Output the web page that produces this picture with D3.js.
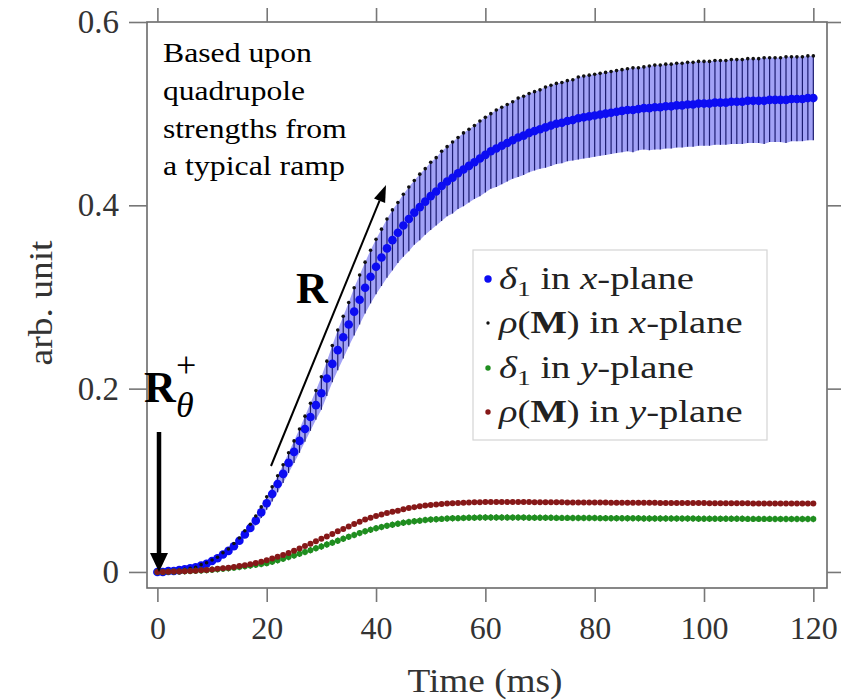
<!DOCTYPE html>
<html><head><meta charset="utf-8">
<script src="https://cdn.jsdelivr.net/npm/d3@7"></script>
<style>body{margin:0;background:#fff} svg{display:block}</style>
</head><body><svg id="c" width="864" height="700"></svg>
<script>
const timeMs = d3.range(0, 121);
const deltaX = [0,0,0.001,0.001,0.002,0.003,0.004,0.005,0.007,0.009,
0.012,0.015,0.019,0.023,0.028,0.034,0.041,0.048,0.056,0.065,
0.075,0.085,0.096,0.107,0.119,0.131,0.143,0.156,0.169,0.182,
0.195,0.211,0.227,0.242,0.256,0.270,0.284,0.297,0.310,0.322,
0.333,0.343,0.353,0.362,0.370,0.378,0.385,0.392,0.398,0.404,
0.410,0.415,0.421,0.426,0.430,0.435,0.439,0.443,0.447,0.451,
0.455,0.459,0.462,0.465,0.468,0.471,0.474,0.476,0.479,0.481,
0.483,0.485,0.487,0.489,0.490,0.492,0.493,0.495,0.496,0.497,
0.498,0.499,0.500,0.501,0.502,0.503,0.504,0.504,0.505,0.506,
0.506,0.507,0.507,0.508,0.508,0.509,0.509,0.510,0.510,0.511,
0.511,0.511,0.512,0.512,0.512,0.513,0.513,0.513,0.514,0.514,
0.514,0.514,0.515,0.515,0.515,0.515,0.516,0.516,0.516,0.517,
0.517];
const rhoX = [0,0,0.001,0.001,0.002,0.003,0.004,0.005,0.008,0.010,
0.013,0.016,0.021,0.025,0.031,0.037,0.045,0.052,0.061,0.071,
0.082,0.093,0.105,0.117,0.130,0.143,0.156,0.170,0.184,0.198,
0.213,0.230,0.247,0.264,0.279,0.294,0.310,0.324,0.338,0.351,
0.363,0.374,0.385,0.395,0.403,0.412,0.420,0.427,0.434,0.440,
0.447,0.452,0.459,0.464,0.469,0.474,0.479,0.483,0.487,0.492,
0.496,0.500,0.504,0.507,0.510,0.513,0.517,0.519,0.522,0.524,
0.526,0.529,0.531,0.533,0.534,0.536,0.537,0.540,0.541,0.542,
0.543,0.544,0.545,0.546,0.547,0.548,0.549,0.550,0.550,0.551,
0.552,0.553,0.553,0.554,0.554,0.555,0.555,0.556,0.556,0.557,
0.557,0.557,0.558,0.558,0.558,0.559,0.559,0.559,0.560,0.560,
0.560,0.561,0.561,0.561,0.561,0.562,0.562,0.562,0.562,0.563,
0.563];
const deltaY = [0,0,0.0002,0.0004,0.0006,0.0008,0.001,0.0013,0.0016,0.002,
0.0024,0.0029,0.0034,0.004,0.0047,0.0054,0.0062,0.007,0.0078,0.0087,
0.0096,0.0112,0.0128,0.0145,0.0162,0.018,0.0199,0.0218,0.0238,0.0258,
0.0278,0.0299,0.032,0.0341,0.0362,0.0383,0.0404,0.0424,0.0443,0.046,
0.0476,0.049,0.0503,0.0515,0.0526,0.0536,0.0545,0.0553,0.056,0.0566,
0.0571,0.0575,0.0579,0.0582,0.0585,0.0587,0.0589,0.0591,0.0592,0.0593,
0.0594,0.0594,0.0594,0.0594,0.0594,0.0593,0.0593,0.0593,0.0592,0.0592,
0.0592,0.0591,0.0591,0.059,0.059,0.059,0.0589,0.0589,0.0588,0.0588,
0.0588,0.0587,0.0587,0.0586,0.0586,0.0586,0.0585,0.0585,0.0585,0.0584,
0.0584,0.0584,0.0583,0.0583,0.0583,0.0582,0.0582,0.0582,0.0582,0.0581,
0.0581,0.0581,0.0581,0.058,0.058,0.058,0.058,0.058,0.0579,0.0579,
0.0579,0.0579,0.0579,0.0578,0.0578,0.0578,0.0578,0.0578,0.0578,0.0577,
0.0577];
const rhoY = [0,0,0.0002,0.0004,0.0006,0.0008,0.0011,0.0014,0.0018,0.0022,
0.0028,0.0034,0.0040,0.0047,0.0055,0.0064,0.0074,0.0085,0.0097,0.0112,
0.0128,0.0146,0.0165,0.0186,0.0208,0.0232,0.0257,0.0283,0.0309,0.0335,
0.0361,0.0388,0.0415,0.0443,0.047,0.0497,0.0523,0.0548,0.0571,0.0592,
0.0611,0.0628,0.0643,0.0657,0.0669,0.0685,0.0697,0.0707,0.0716,0.0724,
0.0731,0.0737,0.0742,0.0746,0.075,0.0753,0.0756,0.0758,0.076,0.0761,
0.0762,0.0763,0.0763,0.0763,0.0763,0.0763,0.0762,0.0762,0.0762,0.0761,
0.0761,0.0761,0.076,0.076,0.076,0.0759,0.0759,0.0759,0.0758,0.0758,
0.0758,0.0757,0.0757,0.0756,0.0756,0.0756,0.0755,0.0755,0.0755,0.0754,
0.0754,0.0754,0.0753,0.0753,0.0753,0.0752,0.0752,0.0752,0.0751,0.0751,
0.0751,0.075,0.075,0.075,0.075,0.0749,0.0749,0.0749,0.0749,0.0748,
0.0748,0.0748,0.0748,0.0747,0.0747,0.0747,0.0747,0.0746,0.0746,0.0746,
0.0746];
const deltaYErr = 0.0035;
const xTicks = [0,20,40,60,80,100,120];
const yTicks = [0,0.2,0.4,0.6];
const yTickLabels = ["0","0.2","0.4","0.6"];
const xTitle = "Time (ms)";
const yTitle = "arb. unit";
const noteLines = ["Based upon","quadrupole","strengths from","a typical ramp"];
const legendLabels = [
  [["δ","i"],["1","sub"],[" in ",""],["x","i"],["-plane",""]],
  [["ρ","i"],["(",""],["M","b"],[")",""],[" in ",""],["x","i"],["-plane",""]],
  [["δ","i"],["1","sub"],[" in ",""],["y","i"],["-plane",""]],
  [["ρ","i"],["(",""],["M","b"],[")",""],[" in ",""],["y","i"],["-plane",""]]
];

const FONT = "'Liberation Serif','Times New Roman',serif";
const svg = d3.select("#c");
const L = 147, R = 827, T = 22, B = 588;
const x = d3.scaleLinear().domain([-1.9, 122.5]).range([L, R]);
const y = d3.scaleLinear().domain([-0.0175, 0.6]).range([B, T]);

function stretch(sel, target) {
  const w = sel.node().getBBox().width;
  return w > 0 ? target / w : 1;
}

// frame
svg.append("rect").attr("x", L).attr("y", T).attr("width", R - L).attr("height", B - T)
  .attr("fill", "none").attr("stroke", "#6a6a6a").attr("stroke-width", 1.6);

// axes
function styleAxis(g) {
  g.select(".domain").remove();
  g.selectAll(".tick line").attr("stroke", "#777").attr("stroke-width", 1.6);
  g.selectAll(".tick text").attr("font-family", FONT).attr("fill", "#333");
}
const gl = svg.append("g").attr("transform", `translate(${L},0)`)
  .call(d3.axisLeft(y).tickValues(yTicks).tickSize(18).tickPadding(10).tickFormat((d, i) => yTickLabels[i]));
styleAxis(gl); gl.selectAll(".tick text").attr("font-size", 33);
const gb = svg.append("g").attr("transform", `translate(0,${B})`)
  .call(d3.axisBottom(x).tickValues(xTicks).tickSize(14).tickPadding(14).tickFormat(d3.format("d")));
styleAxis(gb); gb.selectAll(".tick text").attr("font-size", 32);
const gt = svg.append("g").attr("transform", `translate(0,${T})`)
  .call(d3.axisTop(x).tickValues(xTicks).tickSize(14).tickFormat(""));
styleAxis(gt);
const gr = svg.append("g").attr("transform", `translate(${R},0)`)
  .call(d3.axisRight(y).tickValues(yTicks).tickSize(14).tickFormat(""));
styleAxis(gr);

// axis titles
const xt = svg.append("text").attr("font-family", FONT).attr("font-size", 33).attr("fill", "#333")
  .attr("text-anchor", "middle").text(xTitle);
xt.attr("transform", `translate(485,692) scale(${stretch(xt, 155)},1)`);
const yt = svg.append("text").attr("font-family", FONT).attr("font-size", 33).attr("fill", "#333")
  .attr("text-anchor", "middle").text(yTitle);
yt.attr("transform", `translate(52,303) rotate(-90) scale(${stretch(yt, 125)},1)`);

// data
const pts = timeMs.map((t, i) => ({t, dx: deltaX[i], rx: rhoX[i], dy: deltaY[i], ry: rhoY[i]}));
const plot = svg.append("g");
plot.append("path").datum(pts)
  .attr("d", d3.area().x(d => x(d.t)).y0(d => y(2 * d.dx - d.rx)).y1(d => y(d.rx)))
  .attr("fill", "#a2a2f6");
plot.append("g").selectAll("line").data(pts).join("line")
  .attr("x1", d => x(d.t)).attr("x2", d => x(d.t))
  .attr("y1", d => y(2 * d.dx - d.rx)).attr("y2", d => y(d.rx))
  .attr("stroke", "#1c1c70").attr("stroke-width", 1.2);
plot.append("g").selectAll("circle").data(pts).join("circle")
  .attr("cx", d => x(d.t)).attr("cy", d => y(d.dx)).attr("r", 4.3).attr("fill", "#0c0cf2");
plot.append("g").selectAll("circle").data(pts).join("circle")
  .attr("cx", d => x(d.t)).attr("cy", d => y(d.rx)).attr("r", 1.8).attr("fill", "#111");
plot.append("g").selectAll("line").data(pts).join("line")
  .attr("x1", d => x(d.t)).attr("x2", d => x(d.t))
  .attr("y1", d => y(d.dy - deltaYErr)).attr("y2", d => y(d.dy + deltaYErr))
  .attr("stroke", "#136213").attr("stroke-width", 1.2);
plot.append("g").selectAll("circle").data(pts).join("circle")
  .attr("cx", d => x(d.t)).attr("cy", d => y(d.dy)).attr("r", 3).attr("fill", "#1f8e1f");
plot.append("g").selectAll("circle").data(pts).join("circle")
  .attr("cx", d => x(d.t)).attr("cy", d => y(d.ry)).attr("r", 3).attr("fill", "#861818");

// legend
const lg = svg.append("g");
lg.append("rect").attr("x", 473).attr("y", 250).attr("width", 294).attr("height", 190)
  .attr("fill", "#fff").attr("stroke", "#d4d4d4").attr("stroke-width", 1.2);
const legendMarks = [
  {fill: "#0c0cf2", r: 3.7}, {fill: "#111", r: 1.7}, {fill: "#1f8e1f", r: 2.7}, {fill: "#861818", r: 2.7}
];
const rowY = [279, 323, 368, 412];
legendLabels.forEach((parts, i) => {
  lg.append("circle").attr("cx", 488).attr("cy", rowY[i]).attr("r", legendMarks[i].r).attr("fill", legendMarks[i].fill);
  const t = lg.append("text").attr("font-family", FONT).attr("font-size", 31).attr("fill", "#222");
  let shifted = false;
  parts.forEach(([s, k]) => {
    const ts = t.append("tspan").text(s);
    if (k === "i") ts.attr("font-style", "italic");
    if (k === "b") ts.attr("font-weight", "bold");
    if (k === "sub") { ts.attr("font-size", 22).attr("dy", 7); shifted = true; }
    else if (shifted) { ts.attr("dy", -7); shifted = false; }
  });
  const target = (i % 2 === 0) ? 195 : 245;
  t.attr("transform", `translate(499,${rowY[i] + 10}) scale(${stretch(t, target)},1)`);
});

// annotation text
const noteBase = [62, 100, 138, 175];
const noteTargets = [149, 142, 184, 182];
noteLines.forEach((s, i) => {
  const t = svg.append("text").attr("font-family", FONT).attr("font-size", 28).attr("fill", "#000").text(s);
  t.attr("transform", `translate(163,${noteBase[i]}) scale(${stretch(t, noteTargets[i])},1)`);
});

// thick vertical arrow
svg.append("line").attr("x1", 159).attr("y1", 432).attr("x2", 159).attr("y2", 556)
  .attr("stroke", "#000").attr("stroke-width", 4.5);
svg.append("path").attr("d", "M150,553 L168,553 L159,572 Z").attr("fill", "#000");
// R arrow
const ax0 = 271, ay0 = 466, ax1 = 386, ay1 = 185;
const ang = Math.atan2(ay1 - ay0, ax1 - ax0);
const hl = 17, hw = 6;
const bx = ax1 - hl * Math.cos(ang), by = ay1 - hl * Math.sin(ang);
svg.append("line").attr("x1", ax0).attr("y1", ay0).attr("x2", bx).attr("y2", by)
  .attr("stroke", "#000").attr("stroke-width", 2);
svg.append("path").attr("d",
  `M${ax1},${ay1} L${bx + hw * Math.sin(ang)},${by - hw * Math.cos(ang)} L${bx - hw * Math.sin(ang)},${by + hw * Math.cos(ang)} Z`)
  .attr("fill", "#000");

// R labels
svg.append("text").attr("x", 296).attr("y", 303).attr("font-family", FONT).attr("font-weight", "bold")
  .attr("font-size", 44).attr("fill", "#000").text("R");
svg.append("text").attr("x", 144).attr("y", 402).attr("font-family", FONT).attr("font-weight", "bold")
  .attr("font-size", 44).attr("fill", "#000").text("R");
svg.append("text").attr("x", 176).attr("y", 377).attr("font-family", FONT)
  .attr("font-size", 36).attr("fill", "#000").text("+");
svg.append("text").attr("x", 176).attr("y", 417).attr("font-family", FONT)
  .attr("font-style", "italic").attr("font-size", 36).attr("fill", "#000").text("θ");
</script></body></html>
